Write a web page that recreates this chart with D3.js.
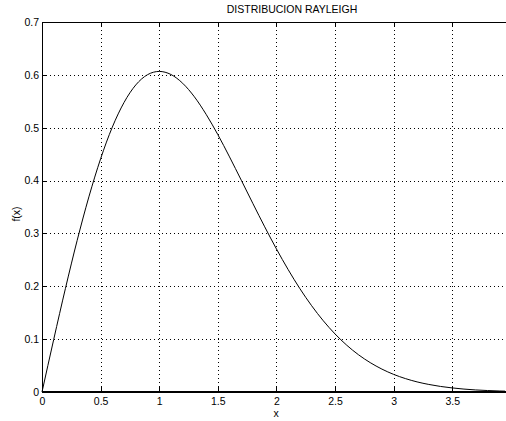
<!DOCTYPE html>
<html>
<head>
<meta charset="utf-8">
<script src="https://cdn.jsdelivr.net/npm/d3@7"></script>
<style>
  html, body { margin: 0; padding: 0; background: #fff; overflow: hidden; }
  text { font-family: "Liberation Sans", Arial, Helvetica, sans-serif; fill: #000; }
</style>
</head>
<body>
<div id="chart"></div>
<script>
// Rayleigh pdf values
const xs = [0, 0.1, 0.2, 0.3, 0.4, 0.5, 0.6, 0.7, 0.8, 0.9, 1.0, 1.1, 1.2, 1.3, 1.4, 1.5, 1.6, 1.7, 1.8, 1.9,
            2.0, 2.1, 2.2, 2.3, 2.4, 2.5, 2.6, 2.7, 2.8, 2.9, 3.0, 3.1, 3.2, 3.3, 3.4, 3.5, 3.6, 3.7, 3.8, 3.9, 3.95];
const fx = [0, 0.0995, 0.1960, 0.2868, 0.3692, 0.4412, 0.5012, 0.5478, 0.5809, 0.6003, 0.6065, 0.6007, 0.5841,
            0.5585, 0.5254, 0.4870, 0.4448, 0.4007, 0.3562, 0.3125, 0.2707, 0.2316, 0.1956, 0.1633, 0.1347,
            0.1098, 0.0885, 0.0705, 0.0556, 0.0433, 0.0333, 0.0254, 0.0191, 0.0143, 0.0105, 0.0077, 0.0055,
            0.0039, 0.0028, 0.0019, 0.0016];
const xTicks = [0, 0.5, 1, 1.5, 2, 2.5, 3, 3.5];
const yTicks = [0, 0.1, 0.2, 0.3, 0.4, 0.5, 0.6, 0.7];
const titleText = 'DISTRIBUCION RAYLEIGH';

const W = 506, H = 421;
const mLeft = 42, mRight = 505, mTop = 22, mBottom = 392;

const svg = d3.select('#chart').append('svg').attr('width', W).attr('height', H);

const x = d3.scaleLinear().domain([0, 3.95]).range([mLeft, mRight]);
const y = d3.scaleLinear().domain([0, 0.7]).range([mBottom, mTop]);

// grid
svg.append('g').selectAll('line').data(xTicks.filter(d => d > 0)).join('line')
  .attr('x1', d => Math.round(x(d)) + 0.5).attr('x2', d => Math.round(x(d)) + 0.5)
  .attr('y1', mTop).attr('y2', mBottom)
  .attr('stroke', '#000').attr('stroke-width', 1).attr('stroke-dasharray', '1,3');
svg.append('g').selectAll('line').data(yTicks.filter(d => d > 0 && d < 0.7)).join('line')
  .attr('y1', d => Math.round(y(d)) + 0.5).attr('y2', d => Math.round(y(d)) + 0.5)
  .attr('x1', mLeft).attr('x2', mRight)
  .attr('stroke', '#000').attr('stroke-width', 1).attr('stroke-dasharray', '1,3');

// axes (inward ticks)
const xAxis = d3.axisBottom(x).tickValues(xTicks).tickSize(-5).tickPadding(6).tickFormat(d3.format('~g'));
const gx = svg.append('g').attr('transform', `translate(0,${mBottom})`).call(xAxis);
const xTop = d3.axisTop(x).tickValues(xTicks).tickSize(-5).tickFormat('');
const gxt = svg.append('g').attr('transform', `translate(0,${mTop})`).call(xTop);
const yAxis = d3.axisLeft(y).tickValues(yTicks).tickSize(-5).tickPadding(3).tickFormat(d3.format('~g'));
const gy = svg.append('g').attr('transform', `translate(${mLeft},0)`).call(yAxis);

[gx, gxt, gy].forEach(g => {
  g.select('.domain').attr('stroke', '#000').attr('stroke-width', 1);
  g.selectAll('.tick line').attr('stroke', '#000');
  g.selectAll('text').style('font-size', '10.5px').style('font-family', '"Liberation Sans", Arial, sans-serif');
  g.attr('shape-rendering', 'crispEdges');
});
gxt.select('.domain').attr('d', `M${mLeft},0H${W + 10}`);
gx.select('.domain').attr('d', `M${mLeft},0H${W + 10}`).attr('stroke-width', 1.5);

// curve
const line = d3.line().x((d, i) => x(xs[i])).y(d => y(d)).curve(d3.curveMonotoneX);
svg.append('path').datum(fx).attr('d', line)
  .attr('fill', 'none').attr('stroke', '#000').attr('stroke-width', 1);

// labels
svg.append('text').text(titleText).attr('x', 292).attr('y', 13)
  .attr('text-anchor', 'middle').style('font-size', '10.5px');
svg.append('text').text('x').attr('x', 276).attr('y', 417)
  .attr('text-anchor', 'middle').style('font-size', '10.5px');
svg.append('text').text('f(x)').attr('transform', 'translate(20,214) rotate(-90)')
  .attr('text-anchor', 'middle').style('font-size', '10.5px');
</script>
</body>
</html>
